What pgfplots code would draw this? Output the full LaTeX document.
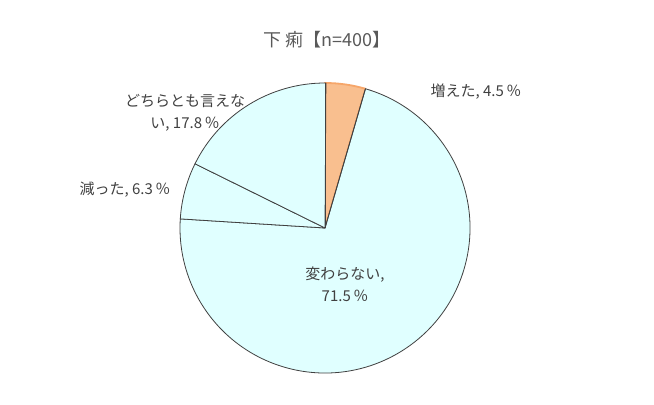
\documentclass[border=0pt]{standalone}
\usepackage{fontspec}
\setmainfont{Noto Sans CJK JP}
\usepackage{pgfplots}
\usepackage{pgfplotstable}
\pgfplotsset{compat=1.18}

\definecolor{txt}{HTML}{595959}
\definecolor{lbl}{HTML}{404040}
\definecolor{edge}{HTML}{404040}
\definecolor{cyanfill}{HTML}{E0FFFF}
\definecolor{orangefill}{HTML}{F9BF8F}
\definecolor{orangeedge}{HTML}{F6A66A}
\newcommand\pct{\,\symbol{"FF05}}

% share of answers, percent, clockwise from the top
\pgfplotstableread{
label value
inc   4.5
same  71.5
dec   6.3
unk   17.8
}\piedata

\begin{document}
\begin{tikzpicture}
\begin{axis}[
    width=654bp, height=405bp, scale only axis,
    xmin=0, xmax=654, ymin=0, ymax=405,
    hide axis, clip=false,
]
\addplot[draw=none] coordinates {(0,0) (654,405)};
\pgfplotsextra{
    \xdef\cum{90}
    \foreach \i/\fc/\dc/\lw in {0/orangefill/orangeedge/1.8bp,1/cyanfill/edge/0.8bp,2/cyanfill/edge/0.8bp,3/cyanfill/edge/0.8bp}{
        \pgfplotstablegetelem{\i}{value}\of\piedata
        \pgfmathsetmacro{\ang}{\pgfplotsretval*3.6}
        \pgfmathsetmacro{\endang}{\cum-\ang}
        \filldraw[fill=\fc, draw=\dc, line width=\lw, line join=round]
            (axis cs:325,177) -- ++(\cum:145bp)
            arc[start angle=\cum, end angle=\endang, radius=145bp] -- cycle;
        \xdef\cum{\endang}
    }
    % radial lines on top of the orange edge
    \draw[edge, line width=0.8bp] (axis cs:325,177) -- ++(90:145bp);
    \draw[edge, line width=0.8bp] (axis cs:325,177) -- ++(73.8:145bp);
}
\node[txt, font=\fontsize{18bp}{22bp}\selectfont] at (axis cs:327,365) {下 痢【n=400】};
\begin{scope}[every node/.style={lbl, align=center, font=\fontsize{15bp}{22bp}\selectfont}]
\node at (axis cs:476,313) {増えた, 4.5\pct};
\node at (axis cs:185,292) {どちらとも言えな\\い, 17.8\pct};
\node at (axis cs:125,215) {減った, 6.3\pct};
\node at (axis cs:345,121) {変わらない,\\71.5\pct};
\end{scope}
\end{axis}
\end{tikzpicture}
\end{document}
